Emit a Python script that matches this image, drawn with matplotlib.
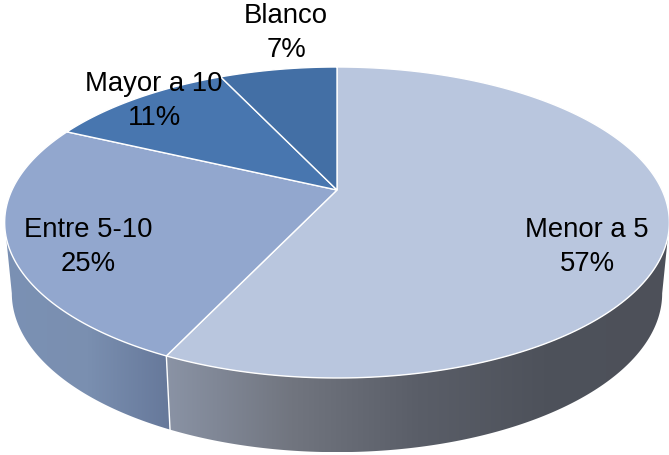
import numpy as np
import matplotlib
matplotlib.use("Agg")
import matplotlib.pyplot as plt
from matplotlib.colors import LinearSegmentedColormap
from matplotlib.patches import Polygon

categorias = ["Menor a 5", "Entre 5-10", "Mayor a 10", "Blanco"]
valores = [57, 25, 11, 7]
colores = ["#B9C6DE", "#92A7CE", "#4876AF", "#436FA5"]
pos_etiquetas = [(587, 247), (88, 247), (154, 101), (286, 33)]

plt.rcParams["font.family"] = ["Liberation Sans", "DejaVu Sans"]


# proyeccion en perspectiva del disco: f es la fraccion en sentido horario desde arriba
def proyectar(f, cx, cy, kx, ky, c=0.209):
    ang = 2 * np.pi * np.asarray(f)
    u, v = np.sin(ang), np.cos(ang)
    w = 1 + c * v
    return cx + kx * u / w, cy - ky * v / w


def cara_superior(f):
    return proyectar(f, 337, 190, 325, 148.7)


def cara_inferior(f):
    return proyectar(f, 337, 260, 318, 152)


def pared(f0, f1, colores_grad, ax):
    f = np.linspace(f0, f1, 200)
    xt, yt = cara_superior(f)
    xb, yb = cara_inferior(f)
    pts = np.vstack([np.column_stack([xt, yt]), np.column_stack([xb, yb])[::-1]])
    poly = Polygon(pts, closed=True, facecolor="none", edgecolor="none", transform=ax.transData)
    ax.add_patch(poly)
    cmap = LinearSegmentedColormap.from_list("g", colores_grad)
    x0, x1 = pts[:, 0].min(), pts[:, 0].max()
    im = ax.imshow(np.linspace(0, 1, 256).reshape(1, -1), cmap=cmap, aspect="auto",
                   extent=[x0, x1, pts[:, 1].max(), pts[:, 1].min()], zorder=1)
    im.set_clip_path(poly)


fig = plt.figure(figsize=(6.69, 4.55), dpi=100)
ax = fig.add_axes([0, 0, 1, 1])

acum = np.cumsum([0] + valores) / sum(valores)
lim = 0.2836  # donde la elipse llega a su extremo lateral

# paredes laterales (colores de izquierda a derecha)
pared(lim, acum[1], ["#8A93A5", "#71757F", "#5A5E68", "#4E525B", "#4D5059"], ax)
pared(acum[1], 1 - lim, ["#7B91B4", "#7A8FB0", "#66789A"], ax)

# linea blanca entre las paredes
xt, yt = cara_superior(acum[1])
xb, yb = cara_inferior(acum[1])
ax.plot([xt, xb], [yt, yb], color="white", lw=1, zorder=2)

# cara superior
for i, color in enumerate(colores):
    f = np.linspace(acum[i], acum[i + 1], 200)
    x, y = cara_superior(f)
    ax.fill(np.r_[337, x], np.r_[190, y], facecolor=color, edgecolor="white", lw=1, zorder=3)

# etiquetas
for nombre, valor, (x, y) in zip(categorias, valores, pos_etiquetas):
    ax.text(x, y, f"{nombre}\n{valor}%", ha="center", va="center", fontsize=19.8,
            linespacing=1.4, color="black", zorder=5)

ax.set_xlim(0, 669)
ax.set_ylim(455, 0)
ax.axis("off")

fig.savefig("out.png", dpi=100)
